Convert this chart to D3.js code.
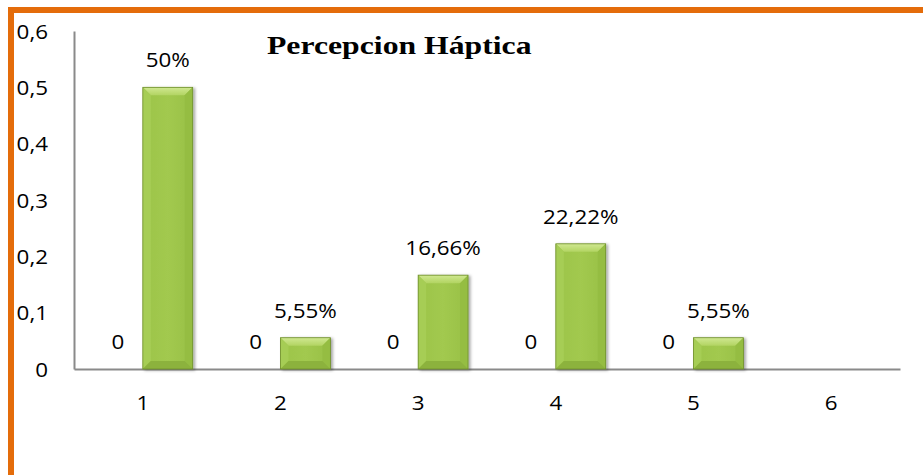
<html>
<head>
<meta charset="utf-8">
<title>Percepcion Háptica</title>
<script src="https://d3js.org/d3.v7.min.js"></script>
<style>
    body { margin: 0; background: #fff; }
    text { font-family: "Open Sans", sans-serif; font-size: 20px; fill: #000; }
</style>
</head>
<body>
<script>
    // chart data
    var categories = ["1", "2", "3", "4", "5", "6"];
    var serie1 = [0, 0, 0, 0, 0, null];
    var serie2 = [0.5, 0.0555, 0.1666, 0.2222, 0.0555, null];
    var labels1 = ["0", "0", "0", "0", "0", ""];
    var labels2 = ["50%", "5,55%", "16,66%", "22,22%", "5,55%", ""];
    var yTicks = [0, 0.1, 0.2, 0.3, 0.4, 0.5, 0.6];
    var chartTitle = "Percepcion Háptica";

    var width = 923,
        height = 475,
        plotLeft = 74,
        plotRight = 900,
        plotTop = 31,
        plotBottom = 369,
        stretch = 1.12,
        titleStretch = 1.22,
        orange = "#e46c0a",
        axisColor = "#8a8a8a";

    var comma = d3.formatLocale({decimal: ",", thousands: ".", grouping: [3], currency: ["", ""]});
    var fmt = comma.format("~g");

    var svg = d3.select("body").append("svg")
        .attr("width", width)
        .attr("height", height);

    var defs = svg.append("defs");
    var topGrad = defs.append("linearGradient")
        .attr("id", "topBevel")
        .attr("x1", 0).attr("y1", 0).attr("x2", 0).attr("y2", 1);
    topGrad.append("stop").attr("offset", "0%").attr("stop-color", "#d0e891");
    topGrad.append("stop").attr("offset", "100%").attr("stop-color", "#b2d462");

    var faceGrad = defs.append("linearGradient")
        .attr("id", "face")
        .attr("x1", 0).attr("y1", 0).attr("x2", 1).attr("y2", 0);
    faceGrad.append("stop").attr("offset", "0%").attr("stop-color", "#9cc449");
    faceGrad.append("stop").attr("offset", "50%").attr("stop-color", "#a2c94f");
    faceGrad.append("stop").attr("offset", "100%").attr("stop-color", "#98c046");

    var shadow = defs.append("filter")
        .attr("id", "shadow")
        .attr("x", "-20%").attr("y", "-10%").attr("width", "140%").attr("height", "120%");
    shadow.append("feDropShadow")
        .attr("dx", 2).attr("dy", 1)
        .attr("stdDeviation", 1.5)
        .attr("flood-color", "#000")
        .attr("flood-opacity", 0.35);

    // orange frame (top and left)
    svg.append("line")
        .attr("x1", 8).attr("x2", width)
        .attr("y1", 10).attr("y2", 10)
        .attr("stroke", orange).attr("stroke-width", 6);
    svg.append("line")
        .attr("x1", 11).attr("x2", 11)
        .attr("y1", 7).attr("y2", height)
        .attr("stroke", orange).attr("stroke-width", 6);

    // scales
    var x = d3.scaleBand()
        .domain(categories)
        .range([plotLeft, plotRight])
        .padding(0);

    var xs = d3.scaleBand()
        .domain(["s1", "s2"])
        .range([0, x.bandwidth()])
        .paddingInner(0)
        .paddingOuter(0.38);

    var y = d3.scaleLinear()
        .domain([0, 0.6])
        .range([plotBottom, plotTop]);

    // axes
    var yAxis = svg.append("g")
        .attr("transform", "translate(" + plotLeft + ",0)")
        .call(d3.axisLeft(y).tickValues(yTicks).tickSize(0).tickSizeOuter(0).tickPadding(26).tickFormat(fmt));

    var xAxis = svg.append("g")
        .attr("transform", "translate(0," + plotBottom + ")")
        .call(d3.axisBottom(x).tickSize(0).tickSizeOuter(0).tickPadding(27));

    svg.selectAll(".domain")
        .attr("stroke", axisColor)
        .attr("stroke-width", 2);

    yAxis.selectAll("text")
        .attr("font-family", null)
        .attr("font-size", null)
        .attr("x", -26 / stretch)
        .attr("dy", "0.35em")
        .attr("transform", "scale(" + stretch + ",1)");

    xAxis.selectAll("text")
        .attr("font-family", null)
        .attr("font-size", null)
        .attr("transform", "scale(" + stretch + ",1)");

    // bars with bevel
    function bevelBar(g, x0, x1, y0, y1) {
        var b = Math.min(8, (y1 - y0) / 2.5, (x1 - x0) / 4);
        var bar = g.append("g").attr("filter", "url(#shadow)");
        bar.append("rect")
            .attr("x", x0).attr("y", y0)
            .attr("width", x1 - x0).attr("height", y1 - y0)
            .attr("fill", "url(#face)");
        var parts = [
            {pts: [[x0, y0], [x1, y0], [x1 - b, y0 + b], [x0 + b, y0 + b]], fill: "url(#topBevel)"},
            {pts: [[x0, y0], [x0 + b, y0 + b], [x0 + b, y1 - b], [x0, y1]], fill: "#a6cd55"},
            {pts: [[x1, y0], [x1, y1], [x1 - b, y1 - b], [x1 - b, y0 + b]], fill: "#95bd43"},
            {pts: [[x0, y1], [x0 + b, y1 - b], [x1 - b, y1 - b], [x1, y1]], fill: "#8cb23c"}
        ];
        bar.selectAll("polygon").data(parts).enter().append("polygon")
            .attr("points", function (d) { return d.pts.join(" "); })
            .attr("fill", function (d) { return d.fill; });
        bar.append("rect")
            .attr("x", x0).attr("y", y0)
            .attr("width", x1 - x0).attr("height", y1 - y0)
            .attr("fill", "none")
            .attr("stroke", "#6e8e2b")
            .attr("stroke-width", 0.8);
    }

    var series = [
        {key: "s1", values: serie1, labels: labels1},
        {key: "s2", values: serie2, labels: labels2}
    ];

    var barLayer = svg.append("g");
    var labelLayer = svg.append("g");

    series.forEach(function (s) {
        categories.forEach(function (c, i) {
            var v = s.values[i];
            if (v === null) return;
            var x0 = x(c) + xs(s.key),
                x1 = x0 + xs.bandwidth();
            if (v > 0) {
                bevelBar(barLayer, x0, x1, y(v), y(0));
            }
            labelLayer.append("text")
                .attr("text-anchor", "middle")
                .attr("transform", "translate(" + ((x0 + x1) / 2) + "," + (y(v) - 20) + ") scale(" + stretch + ",1)")
                .text(s.labels[i]);
        });
    });

    // title
    svg.append("text")
        .attr("transform", "translate(267,54) scale(" + titleStretch + ",1)")
        .style("font-family", "'Liberation Serif', 'Times New Roman', serif")
        .style("font-weight", "bold")
        .style("font-size", "26px")
        .text(chartTitle);
</script>
</body>
</html>
